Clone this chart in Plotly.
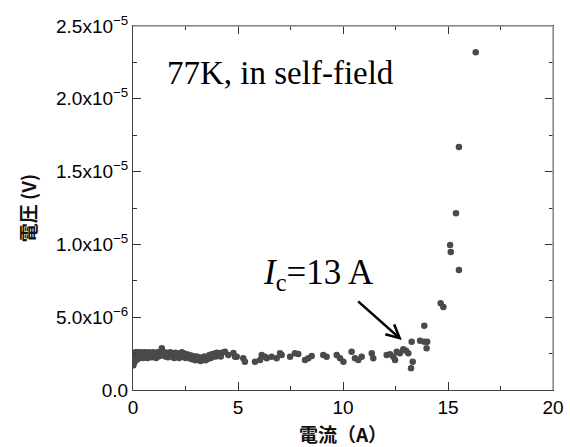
import plotly.graph_objects as go

# Current (A) and voltage (V)
current_A = [
    0.02, 0.04, 0.06, 0.08, 0.10, 0.12, 0.14, 0.17, 0.20, 0.23, 0.26, 0.30, 0.34, 0.38, 0.42,
    0.46, 0.50, 0.55, 0.60, 0.65, 0.70, 0.75, 0.80, 0.85, 0.90, 0.95, 1.00, 1.05, 1.10, 1.15,
    1.20, 1.25, 1.30, 1.37, 1.42, 1.48, 1.54, 1.60, 1.66, 1.72, 1.78, 1.84, 1.90, 1.96, 2.02,
    2.08, 2.14, 2.20, 2.26, 2.32, 2.38, 2.44, 2.50, 2.56, 2.62, 2.68, 2.74, 2.80, 2.86, 2.92,
    2.98, 3.04, 3.10, 3.16, 3.22, 3.28, 3.34, 3.40, 3.46, 3.52, 3.58, 3.64, 3.70, 3.76, 3.82,
    3.88, 3.94, 4.00, 4.06, 4.12, 4.18, 4.24, 4.38, 4.54, 4.78, 4.86, 4.94, 5.25, 5.33,
    5.81, 6.05, 6.13, 6.29, 6.37, 6.60, 6.84, 7.00, 7.08, 7.48, 7.71, 7.87,
    8.19, 8.35, 8.51, 9.06, 9.22, 9.70, 9.86, 10.02, 10.41, 10.57, 10.73, 10.89,
    11.37, 11.44, 12.08, 12.24, 12.40, 12.48, 12.56, 12.71, 12.87, 13.00, 13.11,
    13.24, 13.32, 13.27, 13.67, 13.87, 13.98, 14.01, 13.87, 14.65, 14.78,
    15.10, 15.13, 15.52, 15.38, 15.52, 16.32,
]
voltage_V = [
    1.7e-6, 2.3e-6, 1.9e-6, 2.5e-6, 2.0e-6, 2.6e-6, 2.2e-6, 2.4e-6, 2.1e-6, 2.6e-6, 2.3e-6, 2.5e-6, 2.2e-6, 2.6e-6, 2.3e-6,
    2.5e-6, 2.2e-6, 2.6e-6, 2.35e-6, 2.55e-6, 2.2e-6, 2.6e-6, 2.3e-6, 2.5e-6, 2.25e-6, 2.6e-6, 2.35e-6, 2.5e-6, 2.2e-6, 2.6e-6,
    2.3e-6, 2.55e-6, 2.35e-6, 2.86e-6, 2.45e-6, 2.6e-6, 2.3e-6, 2.55e-6, 2.25e-6, 2.5e-6, 2.6e-6, 2.3e-6, 2.45e-6, 2.2e-6, 2.55e-6,
    2.3e-6, 2.5e-6, 2.2e-6, 2.45e-6, 2.6e-6, 2.3e-6, 2.5e-6, 2.2e-6, 2.45e-6, 2.25e-6, 2.4e-6, 2.15e-6, 2.35e-6, 2.1e-6, 2.3e-6,
    2.05e-6, 2.3e-6, 2.1e-6, 2.25e-6, 2.0e-6, 2.2e-6, 2.1e-6, 2.3e-6, 2.05e-6, 2.25e-6, 2.15e-6, 2.4e-6, 2.2e-6, 2.45e-6, 2.3e-6,
    2.5e-6, 2.3e-6, 2.55e-6, 2.35e-6, 2.5e-6, 2.3e-6, 2.55e-6, 2.63e-6, 2.40e-6, 2.54e-6, 2.29e-6, 2.29e-6, 2.18e-6, 1.94e-6,
    1.94e-6, 2.06e-6, 2.40e-6, 2.29e-6, 2.18e-6, 2.29e-6, 2.18e-6, 2.52e-6, 2.40e-6, 2.29e-6, 2.52e-6, 2.47e-6,
    2.06e-6, 2.18e-6, 2.34e-6, 2.40e-6, 2.29e-6, 2.40e-6, 2.18e-6, 1.94e-6, 2.63e-6, 2.18e-6, 2.06e-6, 2.29e-6,
    2.52e-6, 2.18e-6, 2.40e-6, 2.45e-6, 2.29e-6, 2.06e-6, 2.63e-6, 2.52e-6, 2.80e-6, 2.70e-6, 2.52e-6,
    1.49e-6, 1.94e-6, 3.32e-6, 3.39e-6, 3.32e-6, 2.86e-6, 3.32e-6, 4.42e-6, 5.95e-6, 5.70e-6,
    9.96e-6, 9.48e-6, 8.24e-6, 12.14e-6, 16.69e-6, 23.2e-6,
]

x_ticks = [0, 5, 10, 15, 20]
y_tickvals = [0, 5e-6, 1e-5, 1.5e-5, 2e-5, 2.5e-5]
y_ticktext = ["0.0", "5.0x10<sup>−6</sup>", "1.0x10<sup>−5</sup>", "1.5x10<sup>−5</sup>",
              "2.0x10<sup>−5</sup>", "2.5x10<sup>−5</sup>"]

fig = go.Figure()
fig.add_trace(go.Scatter(
    x=current_A, y=voltage_V, mode="markers",
    marker=dict(size=6.5, color="#4a4a4a", line=dict(width=0)),
    showlegend=False, hoverinfo="skip",
))

axis_font = dict(family="Liberation Sans, Arial, sans-serif", size=19, color="black")
title_font = dict(family="Noto Sans CJK JP, sans-serif", size=19, color="#111111")

fig.update_layout(
    width=570, height=447,
    margin=dict(l=133, r=17, t=26, b=57),
    paper_bgcolor="white", plot_bgcolor="white",
    xaxis=dict(
        range=[0, 20], tickvals=x_ticks, ticktext=[str(v) for v in x_ticks],
        ticks="inside", ticklen=8, tickwidth=1, tickcolor="#333",
        minor=dict(ticks="inside", ticklen=4, dtick=2.5, tick0=0, tickcolor="#333"),
        showline=True, linecolor="#444", linewidth=1, mirror="ticks",
        showgrid=False, zeroline=False, tickfont=axis_font, automargin=False,
        title=dict(text="<b>電流（A）</b>", font=title_font, standoff=13),
    ),
    yaxis=dict(
        range=[0, 2.5e-5], tickvals=y_tickvals, ticktext=y_ticktext,
        ticks="inside", ticklen=8, tickwidth=1, tickcolor="#333",
        minor=dict(ticks="inside", ticklen=4, dtick=2.5e-6, tick0=0, tickcolor="#333"),
        showline=True, linecolor="#444", linewidth=1, mirror="ticks",
        showgrid=False, zeroline=False, tickfont=axis_font, automargin=False,
        title=dict(text="<b>電圧 (V)</b>", font=title_font, standoff=14),
    ),
    shapes=[
        dict(type="line", xref="x domain", yref="y domain", x0=0, x1=1, y0=1, y1=1,
             line=dict(color="#a0a0a0", width=1.5), layer="above"),
        dict(type="line", xref="x domain", yref="y domain", x0=1, x1=1, y0=0, y1=1,
             line=dict(color="#a0a0a0", width=1.5), layer="above"),
    ],
    annotations=[
        dict(text="77K, in self-field", xref="paper", yref="paper", x=0.075, y=0.87,
             xanchor="left", yanchor="middle", showarrow=False,
             font=dict(family="Liberation Serif, Times New Roman, serif", size=33, color="black")),
        dict(text="<i>I</i><sub>c</sub>=13 A", xref="x", yref="y", x=6.1, y=7.9e-6,
             xanchor="left", yanchor="middle", showarrow=False,
             font=dict(family="Liberation Serif, Times New Roman, serif", size=35, color="black")),
        dict(text="", xref="x", yref="y", x=12.8, y=3.43e-6, axref="x", ayref="y",
             ax=10.65, ay=6.18e-6, showarrow=True, arrowhead=5, arrowsize=1,
             arrowwidth=2.6, arrowcolor="black", standoff=0, startstandoff=0),
    ],
)

fig.write_html("out.html")
